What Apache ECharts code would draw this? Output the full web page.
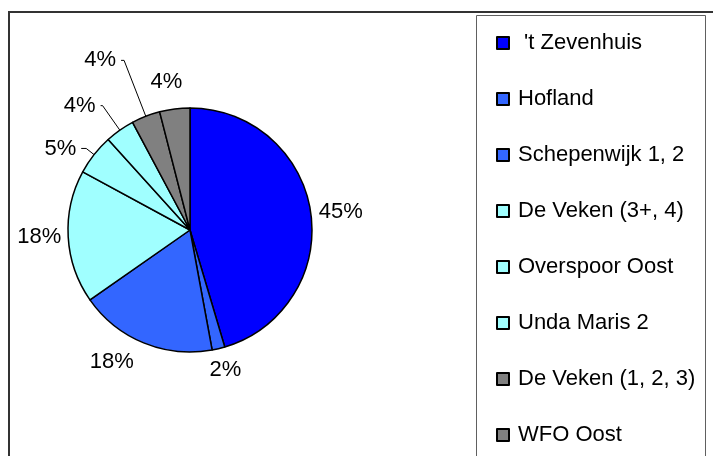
<!DOCTYPE html>
<html>
<head>
<meta charset="utf-8">
<script src="https://cdn.jsdelivr.net/npm/echarts@6/dist/echarts.min.js"></script>
<style>
  html, body { margin: 0; padding: 0; background: #fff; }
  #chart { width: 713px; height: 456px; }
</style>
</head>
<body>
<div id="chart"></div>
<script>
// wijken en hun aandeel (%), met de klok mee vanaf boven
var wijken = [" 't Zevenhuis", 'Hofland', 'Schepenwijk 1, 2', 'De Veken (3+, 4)',
              'Overspoor Oost', 'Unda Maris 2', 'De Veken (1, 2, 3)', 'WFO Oost'];
var aandeel = [45.4, 1.7, 18.2, 17.6, 5.4, 3.9, 3.8, 4.0];
var kleuren = ['#0000FF', '#3366FF', '#3366FF', '#A0FFFF', '#A0FFFF', '#A0FFFF', '#808080', '#808080'];
// labellijn: [lengte, lengte2, tonen]
var lijnen = [[3, 0, false], [22, -19, false], [21, -3, false], [2, 0, false],
              [10, 5, true], [30, 2, true], [60, 3, true], [27, -16, false]];

var chart = echarts.init(document.getElementById('chart'));

var data = [];
for (var i = 0; i < wijken.length; i++) {
    data.push({
        name: wijken[i],
        value: aandeel[i],
        itemStyle: { color: kleuren[i] },
        labelLine: { show: lijnen[i][2], length: lijnen[i][0], length2: lijnen[i][1] }
    });
}

chart.setOption({
    animation: false,
    backgroundColor: '#fff',
    textStyle: { fontFamily: 'Liberation Sans, Arial, sans-serif' },
    graphic: [
        {
            type: 'rect',
            shape: { x: 9, y: 12, width: 720, height: 470 },
            style: { fill: null, stroke: '#333', lineWidth: 2 }
        },
        {
            type: 'rect',
            shape: { x: 476.5, y: 15.5, width: 229, height: 470 },
            style: { fill: null, stroke: '#606060', lineWidth: 1 }
        }
    ],
    legend: {
        orient: 'vertical',
        left: 496,
        top: 32,
        padding: 0,
        itemGap: 34,
        itemWidth: 12,
        itemHeight: 12,
        icon: 'rect',
        selectedMode: false,
        textStyle: {
            fontSize: 22,
            color: '#000',
            fontFamily: 'Liberation Sans, Arial, sans-serif',
            padding: [0, 0, 0, 4]
        },
        data: wijken
    },
    series: [{
        type: 'pie',
        center: [190, 230],
        radius: 122,
        startAngle: 90,
        clockwise: true,
        avoidLabelOverlap: false,
        percentPrecision: 0,
        itemStyle: { borderColor: '#000', borderWidth: 1.5 },
        label: {
            show: true,
            position: 'outside',
            formatter: '{d}%',
            fontSize: 22,
            color: '#000',
            fontFamily: 'Liberation Sans, Arial, sans-serif'
        },
        labelLine: {
            lineStyle: { color: '#000', width: 1 },
            smooth: false
        },
        emphasis: { disabled: true },
        data: data
    }]
});
</script>
</body>
</html>
